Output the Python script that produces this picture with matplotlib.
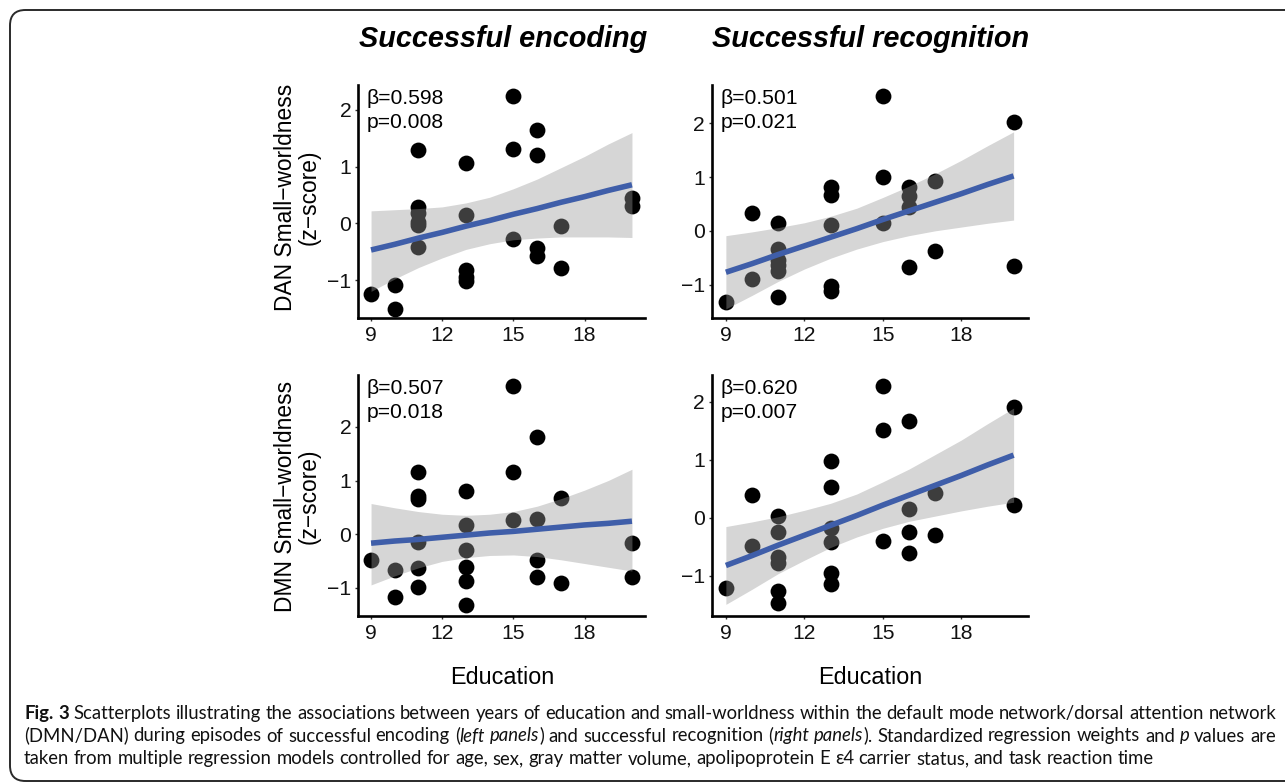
import matplotlib
matplotlib.use('Agg')
import matplotlib.pyplot as plt
from matplotlib.patches import FancyBboxPatch

W, H = 1285, 784

plt.rcParams['font.family'] = ['Liberation Sans', 'DejaVu Sans']

edu_ticks = [9, 12, 15, 18]
z_ticks = [-1, 0, 1, 2]
col_titles = ['Successful encoding', 'Successful recognition']
row_labels = ['DAN Small\u2212worldness\n(z\u2212score)', 'DMN Small\u2212worldness\n(z\u2212score)']

# scatter points
enc_dan_edu = [9, 10, 10, 11, 11, 11, 11, 11, 11, 13, 13, 13, 13, 13, 15, 15, 15, 16, 16, 16, 16, 17, 17, 20, 20]
enc_dan_z = [-1.25, -1.09, -1.52, 1.29, 0.28, 0.18, 0.03, -0.03, -0.41, 1.07, 0.15, -0.82, -0.94, -1.02,
             2.25, 1.31, -0.28, 1.65, 1.20, -0.44, -0.58, -0.05, -0.79, 0.44, 0.31]
rec_dan_edu = [9, 10, 10, 11, 11, 11, 11, 11, 11, 13, 13, 13, 13, 13, 15, 15, 15, 16, 16, 16, 16, 17, 17, 20, 20]
rec_dan_z = [-1.33, 0.33, -0.89, 0.15, -0.33, -0.55, -0.64, -0.74, -1.23, 0.81, 0.67, 0.11, -1.02, -1.11,
             2.51, 1.00, 0.15, 0.81, 0.64, 0.45, -0.68, 0.93, -0.38, 2.03, -0.65]
enc_dmn_edu = [9, 10, 10, 11, 11, 11, 11, 11, 11, 13, 13, 13, 13, 13, 13, 15, 15, 15, 16, 16, 16, 16, 17, 17, 20, 20]
enc_dmn_z = [-0.49, -0.67, -1.17, 1.16, 0.71, 0.66, -0.14, -0.64, -0.98, 0.80, 0.17, -0.29, -0.62, -0.88, -1.33,
             2.76, 1.15, 0.26, 1.82, 0.28, -0.49, -0.81, 0.68, -0.92, -0.17, -0.81]
rec_dmn_edu = [9, 10, 10, 11, 11, 11, 11, 11, 11, 13, 13, 13, 13, 13, 13, 15, 15, 15, 16, 16, 16, 16, 17, 17, 20, 20]
rec_dmn_z = [-1.20, 0.39, -0.49, 0.03, -0.25, -0.67, -0.78, -1.26, -1.46, 0.98, 0.53, -0.18, -0.41, -0.95, -1.14,
             2.27, 1.51, -0.39, 1.66, 0.16, -0.25, -0.60, 0.43, -0.29, 1.91, 0.22]

# regression line and confidence band, read at each year of education
fit_edu = [9, 10, 11, 12, 13, 14, 15, 16, 17, 18, 19, 20]
enc_dan_fit = [-0.47, -0.37, -0.26, -0.16, -0.05, 0.05, 0.16, 0.26, 0.37, 0.47, 0.58, 0.68]
enc_dan_hi = [0.22, 0.24, 0.26, 0.29, 0.36, 0.46, 0.61, 0.78, 0.98, 1.18, 1.40, 1.60]
enc_dan_lo = [-1.20, -0.98, -0.78, -0.61, -0.46, -0.36, -0.29, -0.26, -0.24, -0.24, -0.24, -0.25]
rec_dan_fit = [-0.77, -0.61, -0.44, -0.28, -0.12, 0.04, 0.21, 0.37, 0.53, 0.69, 0.86, 1.02]
rec_dan_hi = [-0.09, -0.02, 0.06, 0.15, 0.27, 0.42, 0.62, 0.83, 1.06, 1.31, 1.58, 1.84]
rec_dan_lo = [-1.45, -1.20, -0.94, -0.71, -0.51, -0.34, -0.20, -0.09, 0.00, 0.07, 0.14, 0.20]
enc_dmn_fit = [-0.17, -0.13, -0.10, -0.06, -0.02, 0.02, 0.05, 0.09, 0.13, 0.17, 0.20, 0.24]
enc_dmn_hi = [0.57, 0.49, 0.42, 0.37, 0.35, 0.37, 0.42, 0.52, 0.66, 0.82, 1.00, 1.21]
enc_dmn_lo = [-0.95, -0.78, -0.63, -0.51, -0.44, -0.40, -0.39, -0.42, -0.48, -0.55, -0.62, -0.69]
rec_dmn_fit = [-0.82, -0.65, -0.47, -0.30, -0.13, 0.04, 0.22, 0.39, 0.56, 0.73, 0.91, 1.08]
rec_dmn_hi = [-0.15, -0.07, 0.02, 0.13, 0.25, 0.41, 0.62, 0.84, 1.09, 1.34, 1.62, 1.89]
rec_dmn_lo = [-1.49, -1.23, -0.96, -0.73, -0.51, -0.33, -0.18, -0.06, 0.03, 0.12, 0.20, 0.27]

betas = ['0.598', '0.501', '0.507', '0.620']
pvals = ['0.008', '0.021', '0.018', '0.007']

caption_runs = [
    [('Fig. 3', 'b'), (' Scatterplots illustrating the associations between years of education and small-worldness '
                       'within the default mode network/dorsal attention network', 'n')],
    [('(DMN/DAN) during episodes of successful encoding (', 'n'), ('left panels', 'i'),
     (') and successful recognition (', 'n'), ('right panels', 'i'),
     ('). Standardized regression weights and ', 'n'), ('p', 'i'), (' values are', 'n')],
    [('taken from multiple regression models controlled for age, sex, gray matter volume, '
      'apolipoprotein E \u03b54 carrier status, and task reaction time', 'n')],
]

BLUE = '#3F5EA9'
CAP_FONT = ['Lato', 'DejaVu Sans']


def fx(x):
    return x / W


def fy(y):
    return 1 - y / H


def px_box(l, t, r, b):
    return [l / W, 1 - b / H, (r - l) / W, (b - t) / H]


def draw_panel(fig, box, ylim, edu, z, fit, lo, hi, beta, p):
    ax = fig.add_axes(px_box(*box))
    ax.scatter(edu, z, s=130, color='black', linewidths=0, zorder=2)
    ax.fill_between(fit_edu, lo, hi, color='#999999', alpha=0.4, linewidth=0, zorder=3)
    ax.plot(fit_edu, fit, color=BLUE, linewidth=4, solid_capstyle='butt', zorder=4)
    ax.set_xlim(8.45, 20.55)
    ax.set_ylim(*ylim)
    ax.set_xticks(edu_ticks)
    ax.set_yticks(z_ticks)
    for s in ['top', 'right']:
        ax.spines[s].set_visible(False)
    for s in ['left', 'bottom']:
        ax.spines[s].set_linewidth(1.9)
        ax.spines[s].set_color('black')
    ax.tick_params(axis='both', length=2.2, width=1, color='#333333', labelsize=15.2,
                   labelcolor='#111111')
    ax.tick_params(axis='x', pad=3.5)
    ax.tick_params(axis='y', pad=2.5)
    ax.patch.set_alpha(0)
    l, t = box[0], box[1]
    fig.text(fx(l + 9), fy(t + 13), '\u03b2=' + beta, fontsize=15.2, va='center', ha='left')
    fig.text(fx(l + 9), fy(t + 38), 'p=' + p, fontsize=15.2, va='center', ha='left')
    return ax


def caption_line(fig, renderer, runs, x0, x1, y, size, justify):
    words, cur = [], []
    for text, kind in runs:
        for i, part in enumerate(text.split(' ')):
            if i > 0 and cur:
                words.append(cur)
                cur = []
            if part:
                cur.append((part, kind))
    if cur:
        words.append(cur)
    sp = fig.text(0, 0, 'x x', fontsize=size, family=CAP_FONT)
    nsp = fig.text(0, 0, 'xx', fontsize=size, family=CAP_FONT)
    space = sp.get_window_extent(renderer).width - nsp.get_window_extent(renderer).width
    sp.remove()
    nsp.remove()
    placed = []
    for word in words:
        pieces = []
        for piece, kind in word:
            t = fig.text(0, fy(y), piece, fontsize=size, family=CAP_FONT, va='baseline', ha='left',
                         fontweight='bold' if kind == 'b' else 'normal',
                         fontstyle='italic' if kind == 'i' else 'normal', color='#111111')
            pieces.append((t, t.get_window_extent(renderer).width))
        placed.append(pieces)
    wsum = sum(w for pieces in placed for _, w in pieces)
    if justify and len(placed) > 1:
        gap = (x1 - x0 - wsum) / (len(placed) - 1)
    else:
        gap = space
    x = x0
    for pieces in placed:
        for t, w in pieces:
            t.set_x(fx(x))
            x += w
        x += gap


fig = plt.figure(figsize=(W / 100, H / 100), dpi=100)
fig.patch.set_facecolor('white')

border = FancyBboxPatch((fx(10), fy(781)), fx(1320) - fx(10), fy(10) - fy(781),
                        boxstyle='round,pad=0,rounding_size=0.012', mutation_aspect=W / H,
                        transform=fig.transFigure, facecolor='none', edgecolor='#2a2a2a',
                        linewidth=1.4, clip_on=False)
fig.patches.append(border)

panels = [
    ((358, 85, 645, 318), (-1.67, 2.44), enc_dan_edu, enc_dan_z, enc_dan_fit, enc_dan_lo, enc_dan_hi),
    ((711.5, 85, 1028, 318), (-1.62, 2.71), rec_dan_edu, rec_dan_z, rec_dan_fit, rec_dan_lo, rec_dan_hi),
    ((358, 375, 645, 616), (-1.53, 2.97), enc_dmn_edu, enc_dmn_z, enc_dmn_fit, enc_dmn_lo, enc_dmn_hi),
    ((711.5, 375, 1028, 616), (-1.69, 2.46), rec_dmn_edu, rec_dmn_z, rec_dmn_fit, rec_dmn_lo, rec_dmn_hi),
]
for i, (box, ylim, edu, z, fit, lo, hi) in enumerate(panels):
    draw_panel(fig, box, ylim, edu, z, fit, lo, hi, betas[i], pvals[i])

for title, cx in zip(col_titles, [503, 871]):
    fig.text(fx(cx), fy(39), title, fontsize=20.8, fontweight='bold', fontstyle='italic',
             ha='center', va='center')

for label, cy in zip(row_labels, [197, 496]):
    fig.text(fx(297), fy(cy), label, fontsize=16.4, rotation=90, ha='center', va='center',
             multialignment='center', linespacing=1.05)

for cx in [502, 870]:
    fig.text(fx(cx), fy(678), 'Education', fontsize=16.8, ha='center', va='center')

renderer = fig.canvas.get_renderer()
probe = fig.text(0, 0, ''.join(t for t, _ in caption_runs[0]), fontsize=12, family=CAP_FONT)
cap_size = 12 * 1252 / probe.get_window_extent(renderer).width
probe.remove()

for runs, y, just in zip(caption_runs, [719, 741.5, 764], [True, True, False]):
    caption_line(fig, renderer, runs, 24, 1276, y, cap_size, just)

fig.savefig('out.png', dpi=100)
